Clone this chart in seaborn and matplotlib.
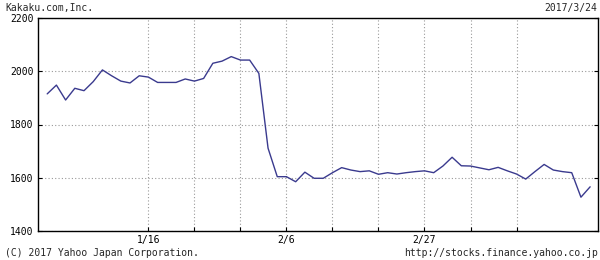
import matplotlib
matplotlib.use("Agg")
import matplotlib.pyplot as plt
import seaborn as sns
import pandas as pd

dates = ["12/27", "12/28", "12/29", "12/30",
         "1/4", "1/5", "1/6", "1/10", "1/11", "1/12", "1/13", "1/16", "1/17", "1/18", "1/19", "1/20",
         "1/23", "1/24", "1/25", "1/26", "1/27", "1/30", "1/31",
         "2/1", "2/2", "2/3", "2/6", "2/7", "2/8", "2/9", "2/10", "2/13", "2/14", "2/15", "2/16", "2/17",
         "2/20", "2/21", "2/22", "2/23", "2/24", "2/27", "2/28",
         "3/1", "3/2", "3/3", "3/6", "3/7", "3/8", "3/9", "3/10", "3/13", "3/14", "3/15", "3/16", "3/17",
         "3/21", "3/22", "3/23", "3/24"]
prices = [1915, 1948, 1892, 1936, 1927, 1961, 2005, 1983, 1963, 1956,
          1983, 1978, 1958, 1958, 1958, 1971, 1963, 1973, 2030, 2038,
          2055, 2042, 2042, 1992, 1711, 1604, 1604, 1585, 1621, 1598,
          1598, 1619, 1638, 1629, 1623, 1626, 1613, 1619, 1614, 1619,
          1623, 1626, 1619, 1644, 1677, 1645, 1644, 1637, 1630, 1639,
          1626, 1614, 1595, 1623, 1650, 1629, 1623, 1619, 1527, 1566]
grid_dates = ["1/16", "1/23", "1/30", "2/6", "2/13", "2/20", "2/27", "3/6", "3/13"]
label_dates = ["1/16", "2/6", "2/27"]
y_ticks = [1400, 1600, 1800, 2000, 2200]

title_left = "Kakaku.com,Inc."
title_right = "2017/3/24"
foot_left = "(C) 2017 Yahoo Japan Corporation."
foot_right = "http://stocks.finance.yahoo.co.jp"

sns.set_style("white")
plt.rcParams["font.family"] = ["DejaVu Sans Mono", "DejaVu Sans"]

df = pd.DataFrame({"idx": range(len(prices)), "price": prices})

fig = plt.figure(figsize=(6, 2.6), dpi=100)
ax = fig.add_axes([38 / 600, 1 - 231 / 260, (597.5 - 38) / 600, (231 - 18) / 260])

sns.lineplot(data=df, x="idx", y="price", ax=ax, color="#3a3a8e", linewidth=1.0)

ax.set_xlim(-1, 59.8)
ax.set_ylim(1400, 2200)

grid_pos = [dates.index(d) for d in grid_dates]
label_pos = [dates.index(d) for d in label_dates]
ax.set_xticks(label_pos)
ax.set_xticklabels(label_dates)
ax.set_xticks([p for p in grid_pos if p not in label_pos], minor=True)
ax.set_yticks(y_ticks)
ax.set_yticklabels([str(v) for v in y_ticks])

gstyle = dict(color="#999999", linestyle=(0, (1, 2)), linewidth=0.8)
ax.grid(True, which="major", axis="both", **gstyle)
ax.grid(True, which="minor", axis="x", **gstyle)

ax.tick_params(axis="both", which="both", labelsize=7, colors="black",
               direction="in", length=3, width=0.8, pad=3)
ax.tick_params(axis="y", right=True, left=True)
ax.tick_params(axis="x", which="both", bottom=True, top=False)
ax.set_xlabel("")
ax.set_ylabel("")
for s in ax.spines.values():
    s.set_visible(True)
    s.set_color("black")
    s.set_linewidth(1.0)

fig.text(5 / 600, 1 - 8 / 260, title_left, fontsize=7, ha="left", va="center")
fig.text(597 / 600, 1 - 8 / 260, title_right, fontsize=7, ha="right", va="center")
fig.text(5 / 600, 1 - 253 / 260, foot_left, fontsize=7, ha="left", va="center")
fig.text(598 / 600, 1 - 253 / 260, foot_right, fontsize=7, ha="right", va="center")

fig.savefig("out.png", dpi=100, facecolor="white")
